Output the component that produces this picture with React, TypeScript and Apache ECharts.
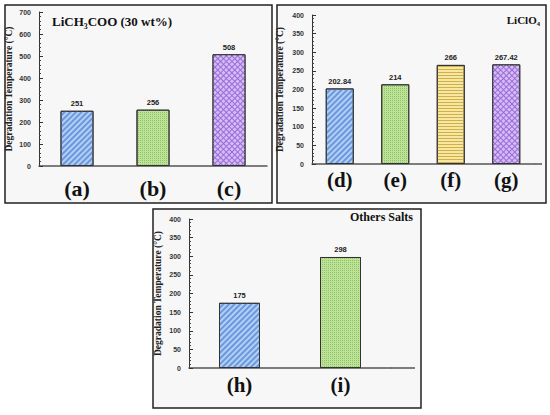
import React, { useEffect, useRef } from "react";
import * as echarts from "echarts";

// ---- data ----
const cats1 = ["(a)", "(b)", "(c)"];
const vals1 = [251, 256, 508];
const cats2 = ["(d)", "(e)", "(f)", "(g)"];
const vals2 = [202.84, 214, 266, 267.42];
const cats3 = ["(h)", "(i)"];
const vals3 = [175, 298];
const title1 = "LiCH₃COO (30 wt%)";
const title2 = "LiClO₄";
const title3 = "Others Salts";
const yName = "Degradation Temperature (°C)";

// ---- styles ----
const SERIF = "'Liberation Serif', 'Times New Roman', serif";
const SANS = "'Liberation Sans', Arial, sans-serif";

const patterns: Record<string, any> = {
  blue: {
    color: "#b3cff5",
    decal: { symbol: "rect", symbolSize: 1, color: "#6a98dc", dashArrayX: [1, 0], dashArrayY: [1.3, 1.9], rotation: -Math.PI / 4 },
  },
  green: {
    color: "#bfe29a",
    decal: { symbol: "rect", symbolSize: 1, color: "#8fc462", dashArrayX: [1, 1], dashArrayY: [1, 1], rotation: 0 },
  },
  yellow: {
    color: "#f8e7a0",
    decal: { symbol: "rect", symbolSize: 1, color: "#cfae4c", dashArrayX: [1, 0], dashArrayY: [1, 1.6], rotation: 0 },
  },
  purple: {
    color: "#9a6bd8",
    decal: { symbol: "rect", symbolSize: 1, color: "#d4bdf5", dashArrayX: [2.4, 1], dashArrayY: [2.4, 1], rotation: Math.PI / 4 },
  },
};
const style1 = ["blue", "green", "purple"];
const style2 = ["blue", "green", "yellow", "purple"];
const style3 = ["blue", "green"];

function items(vals: number[], styles: string[]) {
  return vals.map((v, i) => {
    const p = patterns[styles[i]];
    return {
      value: v,
      itemStyle: { color: p.color, decal: p.decal, borderColor: "#333", borderWidth: 1 },
    };
  });
}

function yAxis(idx: number, max: number, interval: number, gap: number) {
  return {
    type: "value",
    gridIndex: idx,
    min: 0,
    max,
    interval,
    name: yName,
    nameLocation: "middle",
    nameGap: gap,
    nameRotate: 90,
    nameTextStyle: { fontFamily: SERIF, fontWeight: "bold", fontSize: 9.5, color: "#222" },
    axisLine: { show: true, lineStyle: { color: "#333", width: 1 } },
    axisTick: { show: true, inside: true, length: 4, lineStyle: { color: "#333" } },
    minorTick: { show: true, splitNumber: 5, length: 2, lineStyle: { color: "#444" } },
    splitLine: { show: false },
    axisLabel: { fontFamily: SANS, fontWeight: "bold", fontSize: 7, color: "#333", margin: 8 },
  };
}

function xAxis(idx: number, data: string[], margin: number, fs: number) {
  return {
    type: "category",
    gridIndex: idx,
    data,
    axisLine: { show: true, lineStyle: { color: "#555", width: 1.5 } },
    axisTick: { show: false },
    axisLabel: { fontFamily: SERIF, fontWeight: "bold", fontSize: fs, color: "#111", margin },
  };
}

function bar(idx: number, vals: number[], styles: string[], w: number) {
  return {
    type: "bar",
    xAxisIndex: idx,
    yAxisIndex: idx,
    barWidth: w,
    data: items(vals, styles),
    label: {
      show: true,
      position: "top",
      distance: 3,
      fontFamily: SANS,
      fontWeight: "bold",
      fontSize: 7.5,
      color: "#222",
    },
  };
}

function frame(x1: number, y1: number, x2: number, y2: number) {
  return {
    type: "rect",
    z: -10,
    shape: { x: x1, y: y1, width: x2 - x1, height: y2 - y1 },
    style: { fill: "#f7f7f7", stroke: "#222", lineWidth: 1.5 },
  };
}

export default function App() {
  const ref = useRef<HTMLDivElement>(null);
  useEffect(() => {
    if (!ref.current) return;
    const chart = echarts.init(ref.current, null, { renderer: "svg" });
    chart.setOption({
      animation: false,
      backgroundColor: "#ffffff",
      graphic: [
        frame(5, 5, 272, 203),
        frame(277, 5, 546, 203),
        frame(153, 209, 421, 408),
        { type: "line", z: 5, shape: { x1: 534, y1: 164, x2: 542, y2: 164 }, style: { stroke: "#555", lineWidth: 1.5 } },
        { type: "line", z: 5, shape: { x1: 391, y1: 368, x2: 415, y2: 368 }, style: { stroke: "#555", lineWidth: 1.5 } },
      ],
      title: [
        { text: title1, left: 52, top: 15, textStyle: { fontFamily: SERIF, fontWeight: "bold", fontSize: 13, color: "#111" }, padding: 0 },
        { text: title2, right: 550 - 540, top: 14, textStyle: { fontFamily: SERIF, fontWeight: "bold", fontSize: 11, color: "#111" }, padding: 0 },
        { text: title3, right: 550 - 413, top: 211, textStyle: { fontFamily: SERIF, fontWeight: "bold", fontSize: 12, color: "#111" }, padding: 0 },
      ],
      grid: [
        { left: 39, top: 12, width: 228, height: 154 },
        { left: 312, top: 15, width: 222, height: 149 },
        { left: 189, top: 219, width: 202, height: 149 },
      ],
      xAxis: [xAxis(0, cats1, 11, 22), xAxis(1, cats2, 5, 21), xAxis(2, cats3, 6, 21)],
      yAxis: [yAxis(0, 700, 100, 25), yAxis(1, 400, 50, 27), yAxis(2, 400, 50, 26)],
      series: [bar(0, vals1, style1, 33), bar(1, vals2, style2, 28), bar(2, vals3, style3, 41)],
    });
    return () => chart.dispose();
  }, []);
  return (
    <div
      ref={ref}
      style={{ position: "absolute", left: 0, top: 0, width: 550, height: 415, background: "#fff" }}
    />
  );
}
